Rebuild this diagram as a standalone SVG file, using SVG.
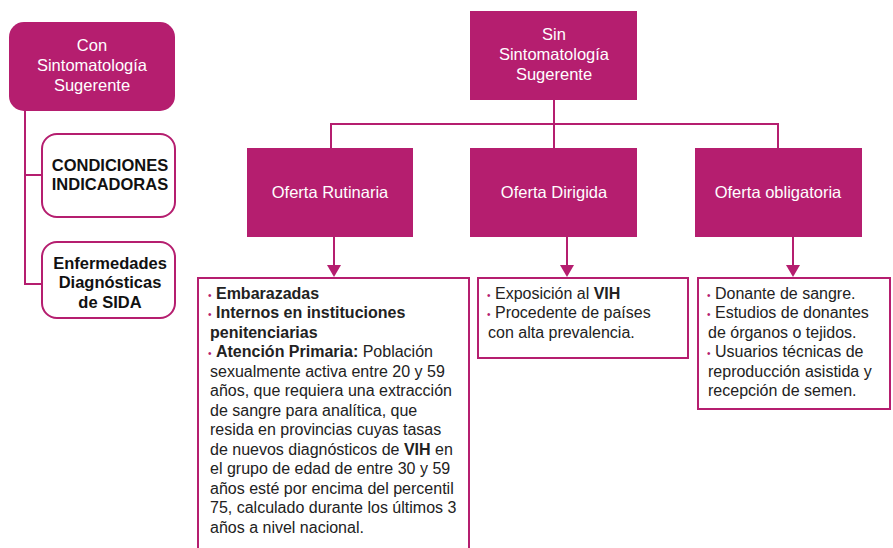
<svg xmlns="http://www.w3.org/2000/svg" width="893" height="548" viewBox="0 0 893 548">
<style>
.fill{fill:#B51E6F}
.ob{fill:#fff;stroke:#B51E6F;stroke-width:2}
.wt{font-family:"Liberation Sans",Arial,sans-serif;font-size:16.5px;fill:#fff;text-anchor:middle}
.bt{font-family:"Liberation Sans",Arial,sans-serif;font-size:16.5px;font-weight:bold;fill:#111;text-anchor:middle}
.tx{font-family:"Liberation Sans",Arial,sans-serif;font-size:16px;fill:#222}
.b{font-weight:bold}
.dot{fill:#B51E6F;font-size:10px}
.ln{fill:none;stroke:#B51E6F;stroke-width:2}
</style>
<rect width="893" height="548" fill="#fff"/>
<g id="connectors">
<path class="ln" d="M25,111 V284 H41 M25,175 H41"/>
<path class="ln" d="M554,100 V148 M331,148 V124 H778 V148"/>
<path class="ln" d="M334,237 V265"/>
<path d="M327,265 L341,265 L334,277 z" class="fill"/>
<path class="ln" d="M567,237 V265"/>
<path d="M560,265 L574,265 L567,277 z" class="fill"/>
<path class="ln" d="M793,237 V265"/>
<path d="M786,265 L800,265 L793,277 z" class="fill"/>
</g>
<g id="con">
<rect class="fill" x="9" y="22" width="166" height="89" rx="15"/>
<text class="wt" x="92" y="51">Con</text>
<text class="wt" x="92" y="71">Sintomatología</text>
<text class="wt" x="92" y="91">Sugerente</text>
</g>
<g id="condiciones">
<rect class="ob" x="42" y="134" width="133" height="83" rx="15"/>
<text class="bt" x="110" y="171">CONDICIONES</text>
<text class="bt" x="110" y="190">INDICADORAS</text>
</g>
<g id="enfermedades">
<rect class="ob" x="42" y="242" width="133" height="76" rx="15"/>
<text class="bt" x="110" y="269">Enfermedades</text>
<text class="bt" x="110" y="288">Diagnósticas</text>
<text class="bt" x="110" y="308">de SIDA</text>
</g>
<g id="sin">
<rect class="fill" x="470" y="11" width="167" height="89"/>
<text class="wt" x="554" y="40">Sin</text>
<text class="wt" x="554" y="60">Sintomatología</text>
<text class="wt" x="554" y="80">Sugerente</text>
</g>
<g id="rutinaria">
<rect class="fill" x="247" y="148" width="166" height="89"/>
<text class="wt" x="330" y="198">Oferta Rutinaria</text>
</g>
<g id="dirigida">
<rect class="fill" x="470" y="148" width="167" height="89"/>
<text class="wt" x="554" y="198">Oferta Dirigida</text>
</g>
<g id="obligatoria">
<rect class="fill" x="695" y="148" width="167" height="89"/>
<text class="wt" x="778" y="198">Oferta obligatoria</text>
</g>
<g id="rutinaria-text">
<rect class="ob" x="198" y="278" width="271" height="280"/>
<text class="tx">
<tspan x="208" y="299"><tspan class="dot">•</tspan> <tspan class="b">Embarazadas</tspan></tspan>
<tspan x="208" y="318"><tspan class="dot">•</tspan> <tspan class="b">Internos en instituciones</tspan></tspan>
<tspan x="210" y="338" class="b">penitenciarias</tspan>
<tspan x="208" y="357"><tspan class="dot">•</tspan> <tspan class="b">Atención Primaria:</tspan> Población</tspan>
<tspan x="210" y="377">sexualmente activa entre 20 y 59</tspan>
<tspan x="210" y="396">años, que requiera una extracción</tspan>
<tspan x="210" y="416">de sangre para analítica, que</tspan>
<tspan x="210" y="435">resida en provincias cuyas tasas</tspan>
<tspan x="210" y="455">de nuevos diagnósticos de <tspan class="b">VIH</tspan> en</tspan>
<tspan x="210" y="474">el grupo de edad de entre 30 y 59</tspan>
<tspan x="210" y="494">años esté por encima del percentil</tspan>
<tspan x="210" y="513">75, calculado durante los últimos 3</tspan>
<tspan x="210" y="533">años a nivel nacional.</tspan>
</text>
</g>
<g id="dirigida-text">
<rect class="ob" x="478" y="278" width="210" height="80"/>
<text class="tx">
<tspan x="487" y="299"><tspan class="dot">•</tspan> Exposición al <tspan class="b">VIH</tspan></tspan>
<tspan x="487" y="318"><tspan class="dot">•</tspan> Procedente de países</tspan>
<tspan x="488" y="338">con alta prevalencia.</tspan>
</text>
</g>
<g id="obligatoria-text">
<rect class="ob" x="698" y="278" width="192" height="131"/>
<text class="tx">
<tspan x="707" y="299"><tspan class="dot">•</tspan> Donante de sangre.</tspan>
<tspan x="707" y="318"><tspan class="dot">•</tspan> Estudios de donantes</tspan>
<tspan x="708" y="338">de órganos o tejidos.</tspan>
<tspan x="707" y="357"><tspan class="dot">•</tspan> Usuarios técnicas de</tspan>
<tspan x="708" y="377">reproducción asistida y</tspan>
<tspan x="708" y="396">recepción de semen.</tspan>
</text>
</g>
</svg>
